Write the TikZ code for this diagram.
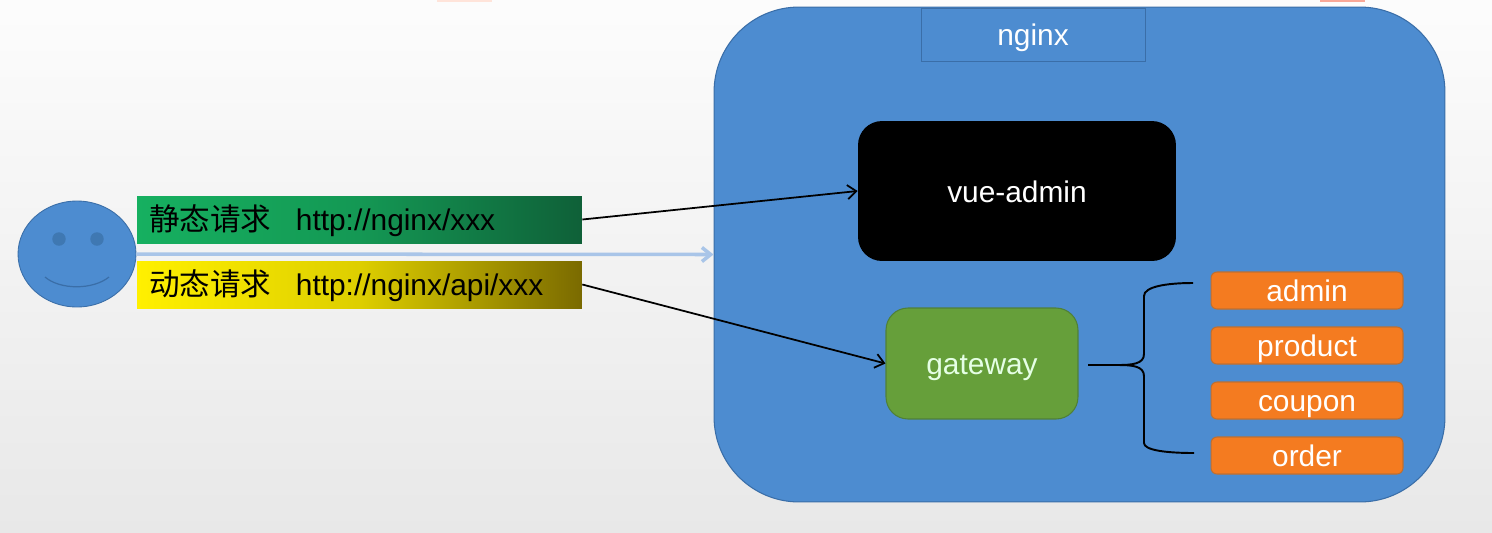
\documentclass[tikz,border=0pt]{standalone}
\usepackage{fontspec}
\setmainfont{Liberation Sans}
\newfontfamily\cjk{Noto Sans CJK SC}
\usepackage{tikz}
\usetikzlibrary{positioning, arrows.meta, calc, shapes.geometric}
\definecolor{boxblue}{HTML}{4D8CD0}
\definecolor{edgeblue}{HTML}{3A6EA8}
\definecolor{eyeblue}{HTML}{3F78B2}
\definecolor{paleblue}{HTML}{A9C5E8}
\definecolor{gatewaygreen}{HTML}{669F3A}
\definecolor{edgegreen}{HTML}{4F8038}
\definecolor{svcorange}{HTML}{F47B20}
\definecolor{edgeorange}{HTML}{C06F30}
\definecolor{reqgreen}{HTML}{16B060}
\definecolor{reqdark}{HTML}{0F6038}
\definecolor{reqyellow}{HTML}{FFF000}
\definecolor{reqolive}{HTML}{7A6A00}
\definecolor{markpale}{HTML}{FFE4DA}
\definecolor{markred}{HTML}{F8A898}
\tikzset{
  label font/.style={font=\fontsize{17}{20}\selectfont, text height=15.7pt, text depth=3pt},
  request/.style={label font, text=black, minimum height=0.94cm, text width=8.42cm,
    text height=15pt, text depth=2pt, inner xsep=0.24cm, inner ysep=0pt, align=left},
  service/.style={label font, text=white, fill=svcorange, draw=edgeorange, line width=0.6pt,
    rounded corners=0.12cm, minimum width=3.84cm, minimum height=0.74cm, inner sep=0pt},
  link/.style={black, line width=1pt, -{Straight Barb[length=5pt,width=8pt]}},
}
\begin{document}
\begin{tikzpicture}[x=0.02cm, y=-0.02cm]
  \useasboundingbox (0,0) rectangle (1492,532);
  \shade[top color=black!1, bottom color=black!9] (0,0) rectangle (1492,532);
  \fill[markpale] (437,0) rectangle (492,1.5);
  \fill[markred] (1320,0) rectangle (1365,1.5);

  % nginx host
  \node[fill=boxblue, draw=edgeblue, line width=0.6pt, rounded corners=1.7cm,
    minimum width=14.62cm, minimum height=9.9cm] (nginxbox) at (1079.5,254.5) {};
  \node[label font, text=white, draw=edgeblue, line width=0.5pt,
    minimum width=4.48cm, minimum height=1.06cm, inner sep=0pt] (nginxtitle) at (1033,34.5) {nginx};
  \node[label font, text=white, fill=black, rounded corners=0.48cm,
    minimum width=6.36cm, minimum height=2.8cm] (vueadmin) at (1017,191) {vue-admin};
  \node[label font, text=white!90!green, fill=gatewaygreen, draw=edgegreen, line width=0.6pt,
    rounded corners=0.44cm, minimum width=3.84cm, minimum height=2.22cm] (gateway) at (982,363.5) {gateway};

  % services behind the gateway
  \node[service] (admin) at (1307,290.5) {admin};
  \node[service] (product) at (1307,345.5) {product};
  \node[service] (coupon) at (1307,400.5) {coupon};
  \node[service] (order) at (1307,455.5) {order};

  % visitor face
  \node[ellipse, fill=boxblue, draw=edgeblue, line width=0.5pt, inner sep=0pt,
    minimum width=2.36cm, minimum height=2.12cm] (face) at (77,254) {};
  \node[circle, fill=eyeblue, inner sep=0pt, minimum size=0.27cm] (lefteye) at (59,239) {};
  \node[circle, fill=eyeblue, inner sep=0pt, minimum size=0.27cm] (righteye) at (97,239) {};
  \draw[edgeblue, line width=0.7pt] (45,277) .. controls (60,290) and (93,290) .. (109,277);

  % requests
  \node[request, left color=reqgreen, right color=reqdark, middle color=reqgreen!70!reqdark]
    (staticreq) at (359.5,219.5) {{\cjk\fontsize{17.4}{20}\selectfont 静态请求}\hspace{14pt}http://nginx/xxx};
  \node[request, left color=reqyellow, right color=reqolive, middle color=reqyellow!75!reqolive]
    (dynamicreq) at (359.5,284.5) {{\cjk\fontsize{17.4}{20}\selectfont 动态请求}\hspace{14pt}http://nginx/api/xxx};

  \draw[paleblue, line width=2pt, -{Straight Barb[length=5pt,width=8pt]}] (face.east) -- (nginxbox.west);
  \draw[link] (staticreq.east) -- (vueadmin.west);
  \draw[link] (dynamicreq.east) -- (gateway.west);

  % brace
  \coordinate (bracetop) at (1193,283);
  \coordinate (bracebottom) at (1194,453);
  \coordinate (bracetip) at (1088,365);
  \draw[black, line width=1.1pt] (bracetip) -- (1118,365)
    .. controls (1132,365) and (1144,364) .. (1144,354) -- (1144,296)
    .. controls (1144,287) and (1165,283) .. (bracetop);
  \draw[black, line width=1.1pt] (1118,365)
    .. controls (1132,365) and (1144,366) .. (1144,376) -- (1144,443)
    .. controls (1144,450) and (1165,453) .. (bracebottom);
\end{tikzpicture}
\end{document}
